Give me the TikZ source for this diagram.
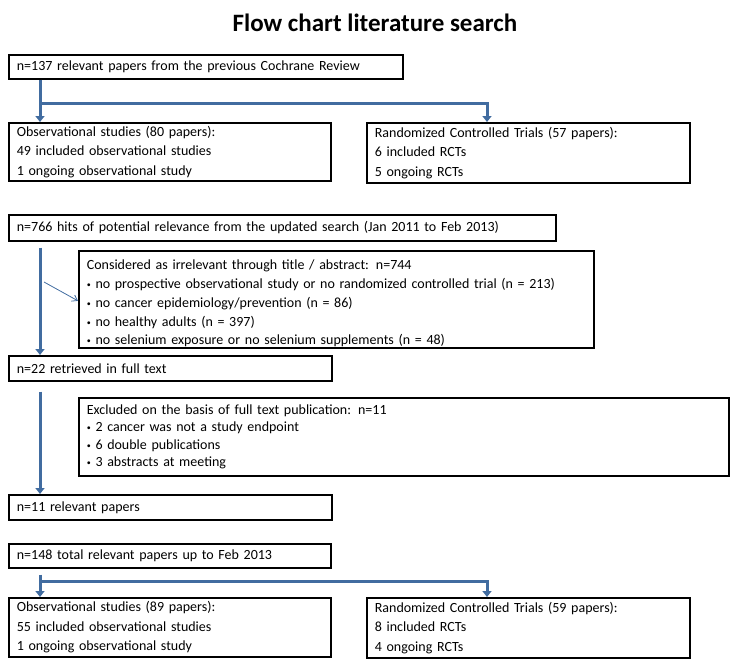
\documentclass[tikz,border=0pt]{standalone}
\usepackage{fontspec}
\setmainfont{Carlito}
\usetikzlibrary{arrows.meta}
\definecolor{flowblue}{RGB}{65,108,160}
\newcommand{\smbul}{\raisebox{0.15ex}{\footnotesize\textbullet}\ }
\tikzset{
  box/.style n args={2}{draw=black, line width=1.7pt, anchor=north west,
    minimum width=#1, minimum height=#2, text width=#1-16pt, inner xsep=8pt,
    inner ysep=0pt, align=left, font=\fontsize{14}{19.5}\selectfont},
  thickarrow/.style={draw=flowblue, line width=3pt, -{Triangle[width=9pt,length=6pt]}},
  thinarrow/.style={draw=flowblue, line width=0.8pt, -{Straight Barb[width=7pt,length=5pt]}},
}
\begin{document}
\begin{tikzpicture}[x=1pt,y=-1pt]
\useasboundingbox (0,0) rectangle (750,664);
\node (title) at (375,23) {\fontsize{25}{30}\selectfont\bfseries Flow chart literature search};
\node[box={394pt}{24pt}] (b1) at (8,54) {n=137 relevant papers from the previous Cochrane Review};
\node[box={322pt}{58pt}] (obs1) at (8,122) {Observational studies (80 papers):\\49 included observational studies\\1 ongoing observational study};
\node[box={323pt}{60pt}] (rct1) at (366,122) {Randomized Controlled Trials (57 papers):\\6 included RCTs\\5 ongoing RCTs};
\node[box={547pt}{26pt}] (b4) at (8,214) {n=766 hits of potential relevance from the updated search (Jan 2011 to Feb 2013)};
\node[box={515pt}{97pt}, font=\fontsize{14}{18.8}\selectfont] (ex1) at (78,250) {\rule{0pt}{18pt}Considered as irrelevant through title / abstract: n=744\\
\smbul no prospective observational study or no randomized controlled trial (n = 213)\\
\smbul no cancer epidemiology/prevention (n = 86)\\
\smbul no healthy adults (n = 397)\\
\smbul no selenium exposure or no selenium supplements (n = 48)};
\node[box={323pt}{25pt}] (b5) at (8,355) {n=22 retrieved in full text};
\node[box={650pt}{78pt}, font=\fontsize{14}{17.5}\selectfont] (ex2) at (78,397) {Excluded on the basis of full text publication: n=11\\
\smbul 2 cancer was not a study endpoint\\
\smbul 6 double publications\\
\smbul 3 abstracts at meeting};
\node[box={323pt}{25pt}] (b6) at (8,494) {n=11 relevant papers};
\node[box={322pt}{24pt}] (b7) at (8,543) {n=148 total relevant papers up to Feb 2013};
\node[box={322pt}{59pt}] (obs2) at (8,597) {Observational studies (89 papers):\\55 included observational studies\\1 ongoing observational study};
\node[box={323pt}{60pt}] (rct2) at (366,597) {Randomized Controlled Trials (59 papers):\\8 included RCTs\\4 ongoing RCTs};

% top fork
\draw[thickarrow] ([xshift=32pt]b1.south west) -- ([xshift=32pt]obs1.north west);
\draw[thickarrow] ([xshift=32pt,yshift=-24pt]b1.south west) -| ([xshift=121pt]rct1.north west);
% middle arrows
\draw[thickarrow] ([xshift=32pt,yshift=-6pt]b4.south west) -- ([xshift=32pt]b5.north west);
\coordinate (tstart) at (44,282);
\draw[thinarrow] (tstart) -- ([yshift=-1.5pt]ex1.west);
\draw[thickarrow] ([xshift=32pt,yshift=-10pt]b5.south west) -- ([xshift=32pt]b6.north west);
% bottom fork
\draw[thickarrow] ([xshift=32pt,yshift=-6pt]b7.south west) -- ([xshift=32pt]obs2.north west);
\draw[thickarrow] ([xshift=32pt,yshift=-13pt]b7.south west) -| ([xshift=121pt]rct2.north west);
\end{tikzpicture}
\end{document}
